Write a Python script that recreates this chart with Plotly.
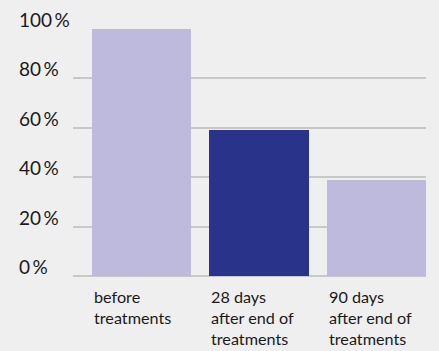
import plotly.graph_objects as go

categories = ["before<br>treatments", "28 days<br>after end of<br>treatments", "90 days<br>after end of<br>treatments"]
values = [100, 59, 39]
bar_colors = ["#bdbade", "#283389", "#bdbade"]
tick_vals = [0, 20, 40, 60, 80, 100]
tick_text = [f"{v}\u2009%" for v in tick_vals]

W, H = 439, 351
ml, mr, mt, mb = 73, 13, 29, 75
bar_w = 0.843
pos = list(range(len(categories)))

fig = go.Figure()
fig.add_trace(go.Bar(x=pos, y=values, width=bar_w, marker=dict(color=bar_colors, line=dict(width=0)),
                     hoverinfo="skip"))

font_family = "Lato, 'Open Sans', sans-serif"
annotations = []
plot_w = W - ml - mr
for v, t in zip(tick_vals, tick_text):
    annotations.append(dict(xref="paper", yref="y", x=(17 - ml) / plot_w, y=v, xanchor="left", yanchor="bottom",
                            yshift=-4, text=t, showarrow=False,
                            font=dict(family=font_family, size=19, color="#1a1a1a")))
for p, c in zip(pos, categories):
    annotations.append(dict(xref="x", yref="paper", x=p - bar_w / 2, y=-(285 - 276) / (H - mt - mb),
                            xanchor="left", yanchor="top", align="left", text=c, showarrow=False,
                            font=dict(family=font_family, size=16.2, color="#1a1a1a")))

fig.update_layout(
    width=W, height=H, margin=dict(l=ml, r=mr, t=mt, b=mb),
    paper_bgcolor="#efefef", plot_bgcolor="#efefef",
    showlegend=False, bargap=0,
    xaxis=dict(range=[-0.583, 2.421], showticklabels=False, showgrid=False, zeroline=False, fixedrange=True),
    yaxis=dict(range=[0, 100], tickvals=tick_vals, showticklabels=False, showgrid=True,
               gridcolor="#c8c8c8", gridwidth=2, zeroline=True, zerolinecolor="#c8c8c8", zerolinewidth=2,
               fixedrange=True),
    annotations=annotations,
)
fig.write_html("out.html", config={"displayModeBar": False})
